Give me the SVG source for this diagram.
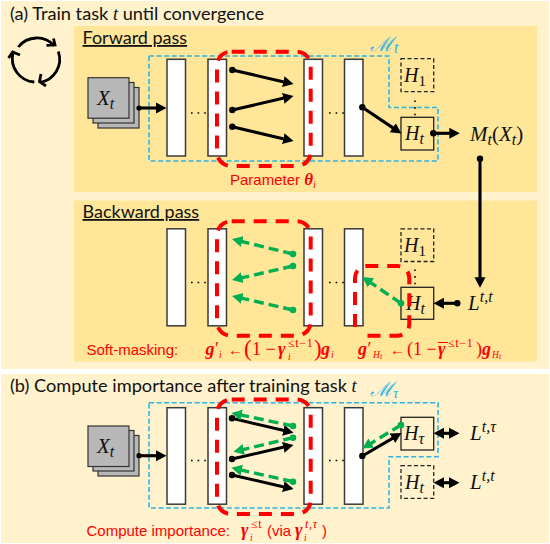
<svg xmlns="http://www.w3.org/2000/svg" width="550" height="544" viewBox="0 0 550 544">
<style>
.panel{fill:#FFF2CC}.inner{fill:#FFE699}
.layer{fill:#fff;stroke:#3a3a3a;stroke-width:1.5}
.data{fill:#B8B8B8;stroke:#333;stroke-width:1.2}
.head{fill:none;stroke:#222;stroke-width:1.3}
.headd{fill:none;stroke:#222;stroke-width:1.3;stroke-dasharray:4 2.5}
.blue{fill:none;stroke:#2FB4E4;stroke-width:1.6;stroke-dasharray:5 2.6}
.red{fill:none;stroke:#FF0000;stroke-width:4;stroke-dasharray:13 9}
.blk{fill:none;stroke:#000;stroke-width:3.1;marker-end:url(#ab)}
.grn{fill:none;stroke:#00B050;stroke-width:3.4;stroke-dasharray:10 5;marker-end:url(#ag)}
.dbl{fill:none;stroke:#000;stroke-width:3.1;marker-start:url(#ab);marker-end:url(#ab)}
.dots{fill:none;stroke:#000;stroke-width:1.6;stroke-dasharray:1.6 5}
.title{font-family:"Lato","Liberation Sans",sans-serif;font-size:18.2px;fill:#111}
.sub{font-family:"Lato","Liberation Sans",sans-serif;font-size:18px;fill:#111;text-decoration:underline}
.m{font-family:"Liberation Serif",serif;fill:#111;font-style:italic}
.r{font-family:"Liberation Sans",Arial,sans-serif;font-size:15px;fill:#FF0000}
.rm{font-family:"Liberation Serif",serif;font-size:18px;fill:#FF0000}
.b{font-weight:bold;font-style:italic}
.ss{font-size:12px;letter-spacing:.7px}
.sm{font-size:9.5px;font-style:italic}
.bl{font-family:"Liberation Serif",serif;font-style:italic;fill:#2FB4E4}
</style>
<defs>
<marker id="ab" markerUnits="userSpaceOnUse" markerWidth="14" markerHeight="14" refX="3" refY="6" orient="auto-start-reverse"><path d="M0,0.5L10.5,6L0,11.5z" fill="#000"/></marker>
<marker id="ag" markerUnits="userSpaceOnUse" markerWidth="14" markerHeight="14" refX="3" refY="6" orient="auto"><path d="M0,0.5L10.5,6L0,11.5z" fill="#00B050"/></marker>
</defs>
<rect width="550" height="544" fill="#fff"/>
<g id="panel-a"><rect class="panel" x="1" y="1" width="548" height="368"/><text class="title" x="10" y="19.5">(a) Train task <tspan font-family="Liberation Serif" font-style="italic">t</tspan> until convergence</text></g>
<g id="panel-b"><rect class="panel" x="1" y="374" width="548" height="169"/><text class="title" x="10" y="391.5">(b) Compute importance after training task <tspan font-family="Liberation Serif" font-style="italic">t</tspan></text></g>
<g id="forward-panel"><rect class="inner" x="74" y="26" width="463" height="166"/><text class="sub" x="82.5" y="44">Forward pass</text></g>
<g id="backward-panel"><rect class="inner" x="74" y="200.5" width="463" height="161"/><text class="sub" x="82.5" y="218">Backward pass</text></g>
<g id="cycle" fill="none" stroke="#000" stroke-width="2.8">
<path d="M18.3,47A23.5,23.5 0 0 1 54.5,46M46.5,45.3L55,45L53.5,38.5"/>
<path d="M58.3,51.5A23.5,23.5 0 0 1 40,82.5M41,74L39.5,81.5L46,86"/>
<path d="M34.3,82A23.5,23.5 0 0 1 13,53M8.5,58L12.7,52L20,55"/>
</g>
<g id="model-a-outline"><path class="blue" d="M149,56H389V107.5H438V161H149z"/><text class="bl" x="370" y="50.5" font-size="20" font-style="normal">ℳ<tspan font-size="16" dy="2" font-style="italic" dx="1">t</tspan></text></g>
<g id="model-b-outline"><path class="blue" d="M149,402.7H438V456.7H389V508H149z"/><text class="bl" x="370" y="396" font-size="20" font-style="normal">ℳ<tspan font-size="15" dy="2" font-style="italic">τ</tspan></text></g>
<g id="data-a"><rect class="data" x="98" y="87.5" width="41" height="40.5"/><rect class="data" x="93" y="82.5" width="41" height="40.5"/><rect class="data" x="88" y="77.7" width="41" height="40.5"/><text class="m" x="97" y="105" font-size="21">X<tspan font-size="16" dy="4">t</tspan></text></g>
<g id="data-b"><rect class="data" x="98" y="435.5" width="41" height="40.5"/><rect class="data" x="93" y="430.5" width="41" height="40.5"/><rect class="data" x="88" y="426" width="41" height="40.5"/><text class="m" x="97" y="453" font-size="21">X<tspan font-size="16" dy="4">t</tspan></text></g>
<g id="layers-a"><rect class="layer" x="167" y="59.3" width="18.5" height="96.7"/><rect class="layer" x="208" y="59.3" width="18.5" height="96.7"/><rect class="layer" x="304" y="59.3" width="18.5" height="96.7"/><rect class="layer" x="344.5" y="59.3" width="18.5" height="96.7"/></g>
<g id="layers-backward"><rect class="layer" x="167" y="228.8" width="18.5" height="97"/><rect class="layer" x="208" y="228.8" width="18.5" height="97"/><rect class="layer" x="304" y="228.8" width="18.5" height="97"/><rect class="layer" x="344.5" y="228.8" width="18.5" height="97"/></g>
<g id="layers-b"><rect class="layer" x="167" y="407.7" width="18.5" height="96.5"/><rect class="layer" x="208" y="407.7" width="18.5" height="96.5"/><rect class="layer" x="304" y="407.7" width="18.5" height="96.5"/><rect class="layer" x="344.5" y="407.7" width="18.5" height="96.5"/></g>
<g id="heads-a"><rect class="headd" x="401" y="58.7" width="32.7" height="33"/><text class="m" x="404" y="82" font-size="20">H<tspan font-size="15" font-style="normal" dy="3.5">1</tspan></text><rect class="head" x="401" y="117.3" width="32.7" height="32.7"/><text class="m" x="405" y="140" font-size="20">H<tspan font-size="16" dy="3.5">t</tspan></text></g>
<g id="heads-backward"><rect class="headd" x="401" y="228.8" width="32.7" height="32.7"/><text class="m" x="404" y="252" font-size="20">H<tspan font-size="15" font-style="normal" dy="3.5">1</tspan></text><rect class="head" x="401" y="287.3" width="32.7" height="32"/><text class="m" x="406" y="310" font-size="20">H<tspan font-size="16" dy="3.5">t</tspan></text></g>
<g id="heads-b"><rect class="head" x="401" y="417.3" width="32.7" height="32.7"/><text class="m" x="404" y="440" font-size="20">H<tspan font-size="16" dy="3.5">τ</tspan></text><rect class="headd" x="401" y="465.7" width="32.7" height="32.7"/><text class="m" x="405" y="489" font-size="20">H<tspan font-size="16" dy="3.5">t</tspan></text></g>
<g id="output-labels">
<text class="m" x="470" y="141" font-size="21">M<tspan font-size="16" dy="3.5">t</tspan><tspan font-style="normal" dy="-3.5">(</tspan>X<tspan font-size="16" dy="3.5">t</tspan><tspan font-style="normal" dy="-3.5">)</tspan></text>
<text class="m" x="468" y="310" font-size="21">L<tspan font-size="16" dy="-8">t,t</tspan></text>
<text class="m" x="470" y="440" font-size="21">L<tspan font-size="16" dy="-8">t,τ</tspan></text>
<text class="m" x="470" y="489" font-size="21">L<tspan font-size="16" dy="-8">t,t</tspan></text>
</g>
<g id="connectors">
<path class="dots" d="M191,113H207M329,113H344M191,282.5H207M329,282.5H344M191,460.5H207M329,460.5H344M415,100.5V116M415,269.5V287"/>
<path class="blk" d="M139,108H159"/>
<path class="blk" d="M232.3,70L286.2,82.4"/><path class="blk" d="M232.3,110L286.2,97.6"/><path class="blk" d="M232.3,126.7L286.2,139.4"/>
<path class="blk" d="M362.3,107.3L395.2,129.4"/><path class="blk" d="M433.3,133.3H452.3"/>
<path class="blk" d="M480,158.7V280.3" stroke-width="3"/><path class="blk" d="M457.3,303.3H441"/>
<path class="grn" d="M293,254L239.3,240.9"/><path class="grn" d="M293,266L239.3,278.4"/><path class="grn" d="M293,310L239.3,297.6"/><path class="grn" d="M401,303.3L368.5,281.2"/>
<path class="blk" d="M139,455.7H159"/>
<path class="blk" d="M232,418.3L286.2,431.1"/><path class="blk" d="M232,459L286.2,446.6"/><path class="blk" d="M232,475L286.2,487.4"/><path class="blk" d="M362.3,456L395,436.8"/>
<path class="grn" d="M293,426L238.8,414.5"/><path class="grn" d="M293,437.7L240.8,450.1"/><path class="grn" d="M293,481.7L238.8,469.5"/><path class="grn" d="M401,425L368.7,444.7"/>
<path class="dbl" d="M441,433.3H452"/><path class="dbl" d="M441,482.7H452"/>
<g fill="#000"><circle cx="139" cy="108" r="2.6"/><circle cx="232.3" cy="70" r="3.2"/><circle cx="232.3" cy="110" r="3.2"/><circle cx="232.3" cy="126.7" r="3.2"/><circle cx="362.3" cy="107.3" r="3.2"/><circle cx="433.3" cy="133.3" r="3.2"/><circle cx="480" cy="158.7" r="3.2"/><circle cx="457.3" cy="303.3" r="3.2"/><circle cx="139" cy="455.7" r="2.6"/><circle cx="232" cy="418.3" r="3.2"/><circle cx="232" cy="459" r="3.2"/><circle cx="232" cy="475" r="3.2"/><circle cx="362.3" cy="456" r="3.2"/></g>
<g fill="#00B050"><circle cx="293" cy="254" r="3.3"/><circle cx="293" cy="266" r="3.3"/><circle cx="293" cy="310" r="3.3"/><circle cx="401" cy="303.3" r="3.3"/><circle cx="293" cy="426" r="3.3"/><circle cx="293" cy="437.7" r="3.3"/><circle cx="293" cy="481.7" r="3.3"/><circle cx="401" cy="425" r="3.3"/></g>
</g>
<g id="mask-a"><path class="red" d="M231.7,51.7H297A14,14 0 0 1 310.7,66V152A14,14 0 0 1 297,166H231A14,14 0 0 1 217,152V66A14,14 0 0 1 231,51.7"/></g>
<g id="mask-backward"><path class="red" d="M231.7,221.3H297A14,14 0 0 1 310.7,235.5V321.5A14,14 0 0 1 297,335.7H231A14,14 0 0 1 217,321.5V235.5A14,14 0 0 1 231,221.3"/></g>
<g id="mask-head"><path class="red" d="M355,327V278A12,12 0 0 1 367,266H397A12,12 0 0 1 409.3,278V324A12,12 0 0 1 397,335.7H360" stroke-dasharray="14 8"/></g>
<g id="mask-b"><path class="red" d="M231.7,399.5H297A14,14 0 0 1 310.7,413.5V499.5A14,14 0 0 1 297,514H231A14,14 0 0 1 217,499.5V413.5A14,14 0 0 1 231,399.5"/></g>
<g id="captions">
<text class="r" x="230" y="185">Parameter <tspan font-family="Liberation Serif" font-weight="bold" font-style="italic" font-size="17">θ</tspan><tspan font-family="Liberation Serif" font-style="italic" font-size="10" dy="3">i</tspan></text>
<text class="r" x="86.5" y="355">Soft-masking:</text>
<text class="rm" y="355"><tspan class="b" x="205.5">g</tspan><tspan x="215">′</tspan><tspan class="sm" x="219" dy="3">i</tspan><tspan x="228" dy="-3" font-size="15">←</tspan><tspan x="244" font-size="23" dy="1">(</tspan><tspan x="252" dy="-1">1 −</tspan><tspan class="b" x="278">γ</tspan><tspan class="ss" x="288" dy="-8">≤t−1</tspan><tspan class="sm" x="288" dy="13">i</tspan><tspan x="314" font-size="23" dy="-4">)</tspan><tspan class="b" x="321" dy="-1">g</tspan><tspan class="sm" x="331" dy="3">i</tspan></text>
<text class="rm" y="355"><tspan class="b" x="358">g</tspan><tspan x="367.5">′</tspan><tspan class="sm" x="373" dy="3">H</tspan><tspan font-size="8" font-style="italic" dy="1">t</tspan><tspan x="390" dy="-4" font-size="15">←</tspan><tspan x="407">(1 −</tspan><tspan class="b" x="438">γ</tspan><tspan class="ss" x="448" dy="-8">≤t−1</tspan><tspan x="476" dy="8">)</tspan><tspan class="b" x="482">g</tspan><tspan class="sm" x="492" dy="3">H</tspan><tspan font-size="8" font-style="italic" dy="1">t</tspan></text>
<path d="M438,342.5H448" stroke="#f00" stroke-width="1"/>
<text class="r" x="86.5" y="536">Compute importance:</text>
<text class="rm" y="536"><tspan class="b" x="241">γ</tspan><tspan class="ss" x="251" dy="-8">≤t</tspan><tspan class="sm" x="250" dy="13">i</tspan></text>
<text class="r" x="267" y="536">(via</text>
<text class="rm" y="536"><tspan class="b" x="295">γ</tspan><tspan class="ss" font-style="italic" x="305" dy="-8">t,τ</tspan><tspan class="sm" x="304" dy="13">i</tspan></text>
<text class="r" x="322" y="536">)</text>
</g>
</svg>
